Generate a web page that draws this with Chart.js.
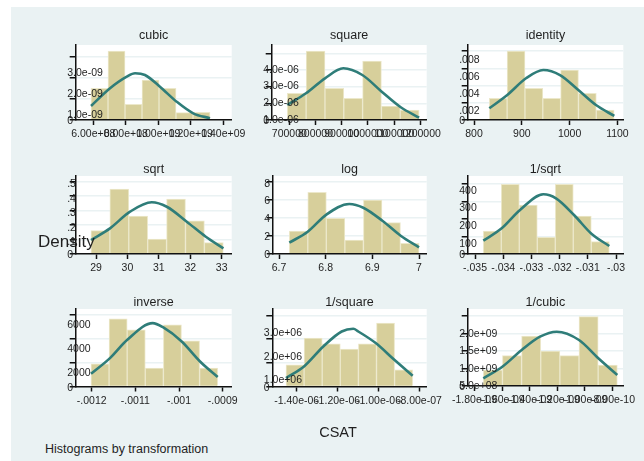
<!DOCTYPE html>
<html lang="en">
<head>
<meta charset="UTF-8">
<title>Histograms by transformation</title>
<script src="https://cdn.jsdelivr.net/npm/chart.js"></script>
<style>
  body { margin: 0; width: 644px; height: 461px; overflow: hidden; background: #fff; position: relative;
         font-family: 'Liberation Sans', Arial, sans-serif; color: #1f1f1f; }
  #bg { position: absolute; left: 11px; top: 7px; right: 0; bottom: 0; background: #eaf2f3; }
  canvas { position: absolute; }
  .txt { position: absolute; white-space: nowrap; z-index: 5; }
</style>
</head>
<body>
<div id="bg"></div>

<script>
// ---- data (density scale, 7 bins each) ----
const cubicEdges = [5.86e8, 6.906e8, 7.952e8, 8.998e8, 1.0044e9, 1.109e9, 1.2136e9, 1.3182e9];
const cubicDensity = [1.497e-9, 3.261e-9, 0.740e-9, 1.890e-9, 1.497e-9, 0.347e-9, 0.362e-9];
const cubicCurveX = [5.86e8, 7.03e8, 8.06e8, 8.57e8, 9.18e8, 1.01e9, 1.113e9, 1.215e9, 1.318e9];
const cubicCurveY = [0.662e-9, 1.498e-9, 2.046e-9, 2.207e-9, 2.127e-9, 1.574e-9, 0.865e-9, 0.317e-9, 0.080e-9];
const cubicXTicks = [6e8, 8e8, 1e9, 1.2e9, 1.4e9];
const cubicXLabels = ['6.00e+08', '8.00e+08', '1.00e+09', '1.20e+09', '1.40e+09'];
const cubicYTicks = [0, 1e-9, 2e-9, 3e-9];
const cubicYLabels = ['0', '1.0e-09', '2.0e-09', '3.0e-09'];

const squareEdges = [692400, 764200, 836000, 907800, 979500, 1051300, 1123100, 1194900];
const squareDensity = [1.601e-6, 4.143e-6, 1.901e-6, 1.301e-6, 3.542e-6, 0.841e-6, 0.600e-6];
const squareCurveX = [692400, 763700, 836200, 906000, 978500, 1052500, 1125000, 1194900];
const squareCurveY = [0.901e-6, 1.603e-6, 2.504e-6, 3.104e-6, 2.702e-6, 1.699e-6, 0.763e-6, 0.138e-6];
const squareXTicks = [700000, 800000, 900000, 1000000, 1100000, 1200000];
const squareXLabels = ['700000', '800000', '900000', '1000000', '1100000', '1200000'];
const squareYTicks = [0, 1e-6, 2e-6, 3e-6, 4e-6];
const squareYLabels = ['0', '1.0e-06', '2.0e-06', '3.0e-06', '4.0e-06'];

const identityEdges = [832, 869.3, 906.6, 943.9, 981.2, 1018.5, 1055.8, 1093.1];
const identityDensity = [0.002519, 0.008022, 0.003682, 0.002519, 0.005813, 0.003101, 0.001163];
const identityCurveX = [832, 869.6, 908.8, 945, 979.9, 1018.2, 1055.2, 1093.5];
const identityCurveY = [0.00136, 0.00291, 0.00485, 0.00581, 0.00523, 0.00349, 0.00174, 0.00047];
const identityXTicks = [800, 900, 1000, 1100];
const identityXLabels = ['800', '900', '1000', '1100'];
const identityYTicks = [0, 0.002, 0.004, 0.006, 0.008];
const identityYLabels = ['0', '.002', '.004', '.006', '.008'];

const sqrtEdges = [28.84, 29.441, 30.043, 30.644, 31.246, 31.847, 32.449, 33.05];
const sqrtDensity = [0.161, 0.448, 0.262, 0.103, 0.379, 0.228, 0.078];
const sqrtCurveX = [28.841, 29.446, 30.083, 30.774, 31.252, 31.889, 32.494, 33.055];
const sqrtCurveY = [0.0966, 0.177, 0.292, 0.357, 0.326, 0.223, 0.119, 0.039];
const sqrtXTicks = [29, 30, 31, 32, 33];
const sqrtXLabels = ['29', '30', '31', '32', '33'];
const sqrtYTicks = [0, 0.1, 0.2, 0.3, 0.4, 0.5];
const sqrtYLabels = ['0', '.1', '.2', '.3', '.4', '.5'];

const logEdges = [6.722, 6.7617, 6.8014, 6.8411, 6.8809, 6.9206, 6.9603, 7.0];
const logDensity = [2.562, 6.870, 3.973, 1.560, 6.015, 3.490, 1.188];
const logCurveX = [6.7221, 6.7615, 6.8022, 6.8506, 6.8806, 6.9222, 6.9614, 7.0];
const logCurveY = [1.259, 2.484, 4.422, 5.570, 5.158, 3.676, 2.005, 0.746];
const logXTicks = [6.7, 6.8, 6.9, 7];
const logXLabels = ['6.7', '6.8', '6.9', '7'];
const logYTicks = [0, 2, 4, 6, 8];
const logYLabels = ['0', '2', '4', '6', '8'];

const invSqrtEdges = [-0.034706, -0.034068, -0.03343, -0.032791, -0.032153, -0.031515, -0.030877, -0.030239];
const invSqrtDensity = [130.8, 396.3, 278.8, 94.8, 396.3, 216.2, 70.2];
const invSqrtCurveX = [-0.034706, -0.034053, -0.033404, -0.032578, -0.032128, -0.031489, -0.030862, -0.030238];
const invSqrtCurveY = [75.7, 146.2, 250.3, 339.6, 316.9, 221.9, 113.8, 45.5];
const invSqrtXTicks = [-0.035, -0.034, -0.033, -0.032, -0.031, -0.03];
const invSqrtXLabels = ['-.035', '-.034', '-.033', '-.032', '-.031', '-.03'];
const invSqrtYTicks = [0, 100, 200, 300, 400];
const invSqrtYLabels = ['0', '100', '200', '300', '400'];

const inverseEdges = [-0.0012016, -0.0011602, -0.0011187, -0.0010773, -0.0010358, -0.0009944, -0.0009529, -0.0009115];
const inverseDensity = [1900, 5671, 4750, 1536, 5169, 3828, 1536];
const inverseCurveX = [-0.0012016, -0.0011581, -0.0011184, -0.0010603, -0.001036, -0.0009939, -0.0009519, -0.0009114];
const inverseCurveY = [1064, 2380, 3914, 5314, 4945, 3772, 2095, 788];
const inverseXTicks = [-0.0012, -0.0011, -0.001, -0.0009];
const inverseXLabels = ['-.0012', '-.0011', '-.001', '-.0009'];
const inverseYTicks = [0, 2000, 4000, 6000];
const inverseYLabels = ['0', '2000', '4000', '6000'];

const invSquareEdges = [-1.4523e-6, -1.3638e-6, -1.2753e-6, -1.1868e-6, -1.0983e-6, -1.0098e-6, -0.9213e-6, -0.8328e-6];
const invSquareDensity = [915500, 2042000, 1803000, 1577000, 1803000, 2676000, 704000];
const invSquareCurveX = [-1.4523e-6, -1.3643e-6, -1.2699e-6, -1.1799e-6, -1.1232e-6, -1.0988e-6, -1.0137e-6, -0.9227e-6, -0.8327e-6];
const invSquareCurveY = [355000, 845000, 1690000, 2324000, 2438000, 2324000, 1834000, 1128000, 452000];
const invSquareXTicks = [-1.4e-6, -1.2e-6, -1e-6, -8e-7];
const invSquareXLabels = ['-1.40e-06', '-1.20e-06', '-1.00e-06', '-8.00e-07'];
const invSquareYTicks = [0, 1e6, 2e6, 3e6];
const invSquareYLabels = ['0', '1.0e+06', '2.0e+06', '3.0e+06'];

const invCubicEdges = [-1.7362e-9, -1.5976e-9, -1.4589e-9, -1.3203e-9, -1.1817e-9, -1.043e-9, -0.9044e-9, -0.7658e-9];
const invCubicDensity = [4.58e8, 8.68e8, 1.431e9, 1.002e9, 8.68e8, 1.984e9, 6.01e8];
const invCubicCurveX = [-1.7362e-9, -1.5986e-9, -1.4581e-9, -1.3256e-9, -1.2046e-9, -1.0431e-9, -0.9034e-9, -0.7658e-9];
const invCubicCurveY = [2.2e8, 5.52e8, 1.03e9, 1.411e9, 1.554e9, 1.317e9, 7.93e8, 3.15e8];
const invCubicXTicks = [-1.8e-9, -1.6e-9, -1.4e-9, -1.2e-9, -1e-9, -8e-10];
const invCubicXLabels = ['-1.80e-09', '-1.60e-09', '-1.40e-09', '-1.20e-09', '-1.00e-09', '-8.00e-10'];
const invCubicYTicks = [0, 5e8, 1e9, 1.5e9, 2e9];
const invCubicYLabels = ['0', '5.0e+08', '1.0e+09', '1.5e+09', '2.0e+09'];

// ---- layout ----
const FONT = "'Liberation Sans', Arial, sans-serif";
const TEXT = '#1f1f1f';
const AXIS = '#111';
const BG = '#eaf2f3';
const BAR = '#d7cf9b';
const BAR_EDGE = '#ece8cb';
const CURVE = '#2f7d79';
const XAXIS_H = 25; // room kept under each plot for tick marks + labels

// box = [left, top, right, bottom] of the white plot region
const panels = [
  { title: 'cubic', titleY: 35, box: [75.7, 45, 231.7, 120], xr: [4.917e8, 1.4517e9], yMax: 3.544e-9,
    edges: cubicEdges, dens: cubicDensity, cx: cubicCurveX, cy: cubicCurveY,
    xt: cubicXTicks, xl: cubicXLabels, yt: cubicYTicks, yl: cubicYLabels },
  { title: 'square', titleY: 35, box: [271.7, 45, 426.7, 120], xr: [632850, 1224000], yMax: 4.503e-6,
    edges: squareEdges, dens: squareDensity, cx: squareCurveX, cy: squareCurveY,
    xt: squareXTicks, xl: squareXLabels, yt: squareYTicks, yl: squareYLabels },
  { title: 'identity', titleY: 35, box: [467.7, 45, 623.3, 120], xr: [786.8, 1112.3], yMax: 0.00872,
    edges: identityEdges, dens: identityDensity, cx: identityCurveX, cy: identityCurveY,
    xt: identityXTicks, xl: identityXLabels, yt: identityYTicks, yl: identityYLabels },
  { title: 'sqrt', titleY: 169, box: [75.7, 176, 231.7, 254], xr: [28.354, 33.318], yMax: 0.538,
    edges: sqrtEdges, dens: sqrtDensity, cx: sqrtCurveX, cy: sqrtCurveY,
    xt: sqrtXTicks, xl: sqrtXLabels, yt: sqrtYTicks, yl: sqrtYLabels },
  { title: 'log', titleY: 169, box: [272.7, 176, 426.7, 254], xr: [6.6865, 7.0165], yMax: 8.69,
    edges: logEdges, dens: logDensity, cx: logCurveX, cy: logCurveY,
    xt: logXTicks, xl: logXLabels, yt: logYTicks, yl: logYLabels },
  { title: '1/sqrt', titleY: 169, box: [467.7, 176, 623, 254], xr: [-0.035259, -0.029752], yMax: 443.7,
    edges: invSqrtEdges, dens: invSqrtDensity, cx: invSqrtCurveX, cy: invSqrtCurveY,
    xt: invSqrtXTicks, xl: invSqrtXLabels, yt: invSqrtYTicks, yl: invSqrtYLabels },
  { title: 'inverse', titleY: 302, box: [75.7, 309, 231.7, 386.5], xr: [-0.0012366, -0.0008794], yMax: 6495,
    edges: inverseEdges, dens: inverseDensity, cx: inverseCurveX, cy: inverseCurveY,
    xt: inverseXTicks, xl: inverseXLabels, yt: inverseYTicks, yl: inverseYLabels },
  { title: '1/square', titleY: 302, box: [272.3, 309, 426.7, 386.5], xr: [-1.5193e-6, -7.643e-7], yMax: 3.2746e6,
    edges: invSquareEdges, dens: invSquareDensity, cx: invSquareCurveX, cy: invSquareCurveY,
    xt: invSquareXTicks, xl: invSquareXLabels, yt: invSquareYTicks, yl: invSquareYLabels },
  { title: '1/cubic', titleY: 302, box: [467.7, 309, 623, 386], xr: [-1.8492e-9, -7.245e-10], yMax: 2.204e9,
    edges: invCubicEdges, dens: invCubicDensity, cx: invCubicCurveX, cy: invCubicCurveY,
    xt: invCubicXTicks, xl: invCubicXLabels, yt: invCubicYTicks, yl: invCubicYLabels }
];

// white plot region behind everything
const plotBg = {
  id: 'plotBg',
  beforeDraw(chart) {
    const a = chart.chartArea, ctx = chart.ctx;
    ctx.save();
    ctx.fillStyle = '#fff';
    ctx.fillRect(a.left, a.top, a.right - a.left, a.bottom - a.top);
    ctx.restore();
  }
};

// y labels are horizontal but sit where the vertical ones would start
const yLabels = {
  id: 'yLabels',
  afterDraw(chart, args, opts) {
    const ctx = chart.ctx, y = chart.scales.y, left = chart.chartArea.left;
    ctx.save();
    ctx.font = '10.5px ' + FONT;
    ctx.fillStyle = TEXT;
    ctx.textAlign = 'left';
    ctx.textBaseline = 'middle';
    opts.ticks.forEach((v, i) => {
      const t = opts.labels[i];
      const w = ctx.measureText(t).width;
      ctx.fillText(t, left - 8.5, y.getPixelForValue(v) + w / 2 - 1.5);
    });
    ctx.restore();
  }
};

function addText(str, css) {
  const d = document.createElement('div');
  d.className = 'txt';
  d.textContent = str;
  Object.assign(d.style, css);
  document.body.appendChild(d);
}

function makePanel(p) {
  const [L, T, R, B] = p.box;
  const left = Math.floor(L) - 50, top = Math.floor(T) - 4;
  const w = Math.ceil(R) + 40 - left, h = Math.ceil(B) + 30 - top;
  const cv = document.createElement('canvas');
  cv.width = w; cv.height = h;
  cv.style.left = left + 'px'; cv.style.top = top + 'px';
  document.body.appendChild(cv);

  const centers = p.dens.map((d, i) => (p.edges[i] + p.edges[i + 1]) / 2);

  new Chart(cv, {
    type: 'bar',
    data: {
      datasets: [
        {
          type: 'line',
          data: p.cx.map((x, i) => ({ x: x, y: p.cy[i] })),
          borderColor: CURVE,
          borderWidth: 2.6,
          pointRadius: 0,
          cubicInterpolationMode: 'monotone',
          order: 0
        },
        {
          type: 'bar',
          data: centers.map((x, i) => ({ x: x, y: p.dens[i] })),
          backgroundColor: BAR,
          borderColor: BAR_EDGE,
          borderWidth: 1,
          barPercentage: 1,
          categoryPercentage: 1,
          order: 1
        }
      ]
    },
    options: {
      responsive: false,
      animation: false,
      layout: { padding: { left: L - left, top: T - top, right: left + w - R, bottom: top + h - B - XAXIS_H } },
      plugins: {
        legend: { display: false },
        tooltip: { enabled: false },
        yLabels: { ticks: p.yt, labels: p.yl }
      },
      scales: {
        x: {
          type: 'linear', min: p.xr[0], max: p.xr[1], offset: false,
          afterBuildTicks: s => { s.ticks = p.xt.map(v => ({ value: v })); },
          afterFit: s => { s.height = XAXIS_H; s.paddingLeft = 0; s.paddingRight = 0; },
          grid: { offset: false, drawOnChartArea: false, drawTicks: true, tickLength: 5, tickColor: AXIS, tickWidth: 1.5 },
          border: { display: true, color: AXIS, width: 1.5, z: 1 },
          ticks: {
            autoSkip: false, maxRotation: 0, minRotation: 0, padding: 3,
            color: TEXT, font: { family: FONT, size: 10.5 },
            callback: (v, i) => p.xl[i]
          }
        },
        y: {
          type: 'linear', min: 0, max: p.yMax,
          afterBuildTicks: s => { s.ticks = p.yt.map(v => ({ value: v })); },
          afterFit: s => { s.width = 0; s.paddingTop = 0; s.paddingBottom = 0; },
          grid: {
            color: c => (c.tick && c.tick.value === 0) ? 'rgba(0,0,0,0)' : BG,
            lineWidth: 1.5, drawTicks: true, tickLength: 6, tickColor: AXIS, tickWidth: 1.5
          },
          border: { display: true, color: AXIS, width: 1.5, z: 1 },
          ticks: { display: false }
        }
      }
    },
    plugins: [plotBg, yLabels]
  });

  addText(p.title, {
    left: ((L + R) / 2 - 60) + 'px', width: '120px', textAlign: 'center',
    top: (p.titleY - 8) + 'px', height: '16px', lineHeight: '16px', fontSize: '12.5px'
  });
}

panels.forEach(makePanel);

// overall labels
addText('Density', { left: '38px', top: '232px', height: '20px', lineHeight: '20px', fontSize: '17px' });
addText('CSAT', { left: '278px', width: '120px', textAlign: 'center', top: '423px', height: '18px', lineHeight: '18px', fontSize: '14.5px' });
addText('Histograms by transformation', { left: '45px', top: '441px', height: '16px', lineHeight: '16px', fontSize: '12.5px' });
</script>
</body>
</html>
